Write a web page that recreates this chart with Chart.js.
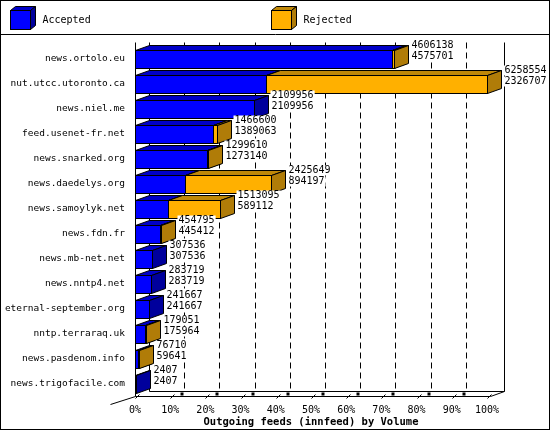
<!DOCTYPE html>
<html><head><meta charset="utf-8">
<script src="https://cdn.jsdelivr.net/npm/chart.js@4/dist/chart.umd.min.js"></script>
<style>body{margin:0;background:#fff}#wrap{width:550px;height:430px;position:relative}</style>
</head><body><div id="wrap"><canvas id="c" width="550" height="430"></canvas></div>
<script>
// innfeed outgoing volume per peer
const hosts = ['news.ortolo.eu', 'nut.utcc.utoronto.ca', 'news.niel.me', 'feed.usenet-fr.net',
  'news.snarked.org', 'news.daedelys.org', 'news.samoylyk.net', 'news.fdn.fr', 'news.mb-net.net',
  'news.nntp4.net', 'eternal-september.org', 'nntp.terraraq.uk', 'news.pasdenom.info', 'news.trigofacile.com'];
const offered = [4606138, 6258554, 2109956, 1466600, 1299610, 2425649, 1513095, 454795, 307536, 283719, 241667, 179051, 76710, 2407];
const accepted = [4575701, 2326707, 2109956, 1389063, 1273140, 894197, 589112, 445412, 307536, 283719, 241667, 175964, 59641, 2407];
const rejected = offered.map((v, i) => v - accepted[i]);
const maxVal = Math.max(...offered);

const DX = 14, DY = -5;
const FONT = '"DejaVu Sans Mono", monospace';
const colors = {
  acc: { front: '#0000ff', top: '#0000c8', side: '#00009c' },
  rej: { front: '#ffb000', top: '#c08808', side: '#b07c08' }
};

function box3d(ctx, x, y, w, h, c, dx = DX, dy = DY) {
  ctx.lineWidth = 1; ctx.strokeStyle = '#000';
  ctx.fillStyle = c.top;
  ctx.beginPath();
  ctx.moveTo(x, y); ctx.lineTo(x + dx, y + dy); ctx.lineTo(x + w + dx, y + dy); ctx.lineTo(x + w, y);
  ctx.closePath(); ctx.fill(); ctx.stroke();
  ctx.fillStyle = c.side;
  ctx.beginPath();
  ctx.moveTo(x + w, y); ctx.lineTo(x + w + dx, y + dy); ctx.lineTo(x + w + dx, y + h + dy); ctx.lineTo(x + w, y + h);
  ctx.closePath(); ctx.fill(); ctx.stroke();
  ctx.fillStyle = c.front;
  ctx.fillRect(x, y, w, h); ctx.strokeRect(x, y, w, h);
}

function label(ctx, txt, x, y) {
  const w = ctx.measureText(txt).width;
  ctx.fillStyle = '#fff';
  ctx.fillRect(x - 1, y - 5, w + 2, 10);
  ctx.fillStyle = '#000';
  ctx.fillText(txt, x, y);
}

const deco = {
  id: 'deco',
  beforeDatasetsDraw(chart) {
    const ctx = chart.ctx, a = chart.chartArea, xs = chart.scales.x;
    ctx.save();
    ctx.translate(0.5, 0.5);
    ctx.strokeStyle = '#000'; ctx.fillStyle = '#000'; ctx.lineWidth = 1;
    ctx.setLineDash([6, 4]);
    for (let i = 1; i < 10; i++) {
      const x = Math.round(xs.getPixelForValue(maxVal * i / 10)) + DX;
      ctx.beginPath(); ctx.moveTo(x, a.top - 4); ctx.lineTo(x, a.bottom + DY); ctx.stroke();
    }
    ctx.setLineDash([]);
    ctx.beginPath();
    ctx.moveTo(a.left + DX, a.top - 4); ctx.lineTo(a.left + DX, a.bottom + DY);
    ctx.moveTo(a.right + DX + 3, a.top - 4); ctx.lineTo(a.right + DX + 3, a.bottom + DY);
    ctx.lineTo(a.left + DX, a.bottom + DY);
    ctx.moveTo(a.left, a.top - 4); ctx.lineTo(a.left, a.bottom);
    ctx.lineTo(a.right + 3, a.bottom);
    ctx.moveTo(a.left, a.bottom); ctx.lineTo(a.left - 25, a.bottom + 8);
    ctx.moveTo(a.right + 3, a.bottom); ctx.lineTo(a.right + DX + 3, a.bottom + DY);
    ctx.stroke();
    for (let i = 0; i <= 10; i++) {
      const x = Math.round(xs.getPixelForValue(maxVal * i / 10));
      ctx.beginPath(); ctx.moveTo(x, a.bottom + 2); ctx.lineTo(x + 4, a.bottom - 2); ctx.stroke();
      if (i > 0 && i < 10) ctx.fillRect(x + 10, a.bottom - 4, 3, 3);
    }
    ctx.restore();
  },
  afterDatasetsDraw(chart) {
    const ctx = chart.ctx;
    const m0 = chart.getDatasetMeta(0).data, m1 = chart.getDatasetMeta(1).data;
    ctx.save();
    ctx.translate(0.5, 0.5);
    hosts.forEach((h, i) => {
      const b0 = m0[i], b1 = m1[i];
      const top = Math.round(b0.y - b0.height / 2), hh = Math.round(b0.height);
      const x0 = Math.round(b0.base);
      const w0 = Math.max(1, Math.round(b0.x - b0.base));
      box3d(ctx, x0, top, w0, hh, colors.acc);
      let end = x0 + w0;
      const w1 = Math.round(b1.x - b1.base);
      if (rejected[i] > 0) {
        box3d(ctx, x0 + w0, top, Math.max(1, w1), hh, colors.rej);
        end = x0 + w0 + Math.max(1, w1);
      }
      ctx.font = '10px ' + FONT;
      ctx.textAlign = 'left'; ctx.textBaseline = 'middle';
      label(ctx, String(offered[i]), end + DX + 3, top - 5);
      label(ctx, String(accepted[i]), end + DX + 3, top + 6);
    });
    // legend
    box3d(ctx, 10, 10, 20, 19, colors.acc, 5, -4);
    box3d(ctx, 271, 10, 20, 19, colors.rej, 5, -4);
    ctx.fillStyle = '#000'; ctx.font = '10px ' + FONT;
    ctx.textAlign = 'left'; ctx.textBaseline = 'middle';
    ctx.fillText('Accepted', 42, 20);
    ctx.fillText('Rejected', 303, 20);
    ctx.beginPath(); ctx.moveTo(0, 34); ctx.lineTo(550, 34); ctx.stroke();
    ctx.strokeRect(0, 0, 549, 429);
    ctx.restore();
  }
};

new Chart(document.getElementById('c'), {
  type: 'bar',
  data: {
    labels: hosts,
    datasets: [
      { label: 'Accepted', data: accepted, backgroundColor: 'rgba(0,0,0,0)', stack: 's' },
      { label: 'Rejected', data: rejected, backgroundColor: 'rgba(0,0,0,0)', stack: 's' }
    ]
  },
  options: {
    indexAxis: 'y',
    responsive: false,
    animation: false,
    layout: { padding: { top: 46, right: 63, left: 0, bottom: 0 } },
    plugins: { legend: { display: false }, tooltip: { enabled: false } },
    scales: {
      x: {
        stacked: true, min: 0, max: maxVal,
        afterBuildTicks: s => { s.ticks = [0,1,2,3,4,5,6,7,8,9,10].map(i => ({ value: maxVal * i / 10 })); },
        ticks: { callback: (v) => Math.round(v / maxVal * 100) + '%', color: '#000', font: { family: FONT, size: 10 }, padding: 0, maxRotation: 0 },
        grid: { display: false }, border: { display: false },
        title: { display: true, text: 'Outgoing feeds (innfeed) by Volume', color: '#000', font: { family: FONT, size: 10.5, weight: 'bold' }, padding: { top: 0, bottom: 1 } },
        afterFit: s => { s.height = 34; }
      },
      y: {
        stacked: true,
        categoryPercentage: 0.52, barPercentage: 1,
        ticks: { color: '#000', font: { family: FONT, size: 9.5 }, padding: 2 },
        grid: { display: false }, border: { display: false },
        afterFit: s => { s.width = 135; }
      }
    }
  },
  plugins: [deco]
});
</script></body></html>
